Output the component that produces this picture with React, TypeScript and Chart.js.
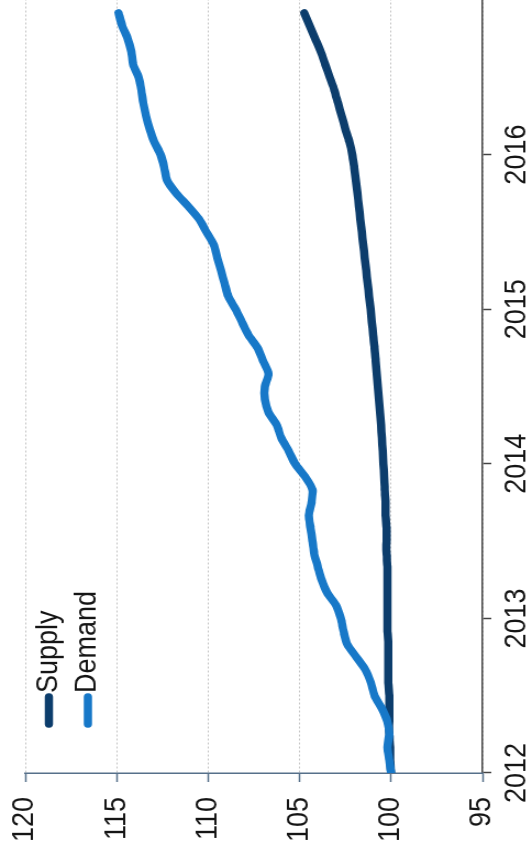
import { useEffect, useRef } from "react";
import { Chart, registerables } from "chart.js";

Chart.register(...registerables);

// ---- data (monthly, index 100 at Jan 2012) ----
const monthLabels: string[] = [
  "2012-01", "2012-02", "2012-03", "2012-04", "2012-05", "2012-06", "2012-07", "2012-08", "2012-09", "2012-10", "2012-11", "2012-12",
  "2013-01", "2013-02", "2013-03", "2013-04", "2013-05", "2013-06", "2013-07", "2013-08", "2013-09", "2013-10", "2013-11", "2013-12",
  "2014-01", "2014-02", "2014-03", "2014-04", "2014-05", "2014-06", "2014-07", "2014-08", "2014-09", "2014-10", "2014-11", "2014-12",
  "2015-01", "2015-02", "2015-03", "2015-04", "2015-05", "2015-06", "2015-07", "2015-08", "2015-09", "2015-10", "2015-11", "2015-12",
  "2016-01", "2016-02", "2016-03", "2016-04", "2016-05", "2016-06", "2016-07", "2016-08", "2016-09", "2016-10", "2016-11", "2016-12",
];

const supply: number[] = [
  100.0, 100.05, 100.05, 100.1, 100.1, 100.1, 100.1, 100.15, 100.15, 100.15, 100.15, 100.2,
  100.2, 100.2, 100.2, 100.2, 100.2, 100.25, 100.25, 100.25, 100.3, 100.3, 100.35, 100.38,
  100.42, 100.46, 100.5, 100.55, 100.6, 100.66, 100.72, 100.78, 100.84, 100.9, 100.98, 101.05,
  101.12, 101.2, 101.28, 101.36, 101.44, 101.52, 101.6, 101.68, 101.76, 101.84, 101.93, 102.02,
  102.12, 102.28, 102.5, 102.7, 102.9, 103.1, 103.35, 103.6, 103.85, 104.15, 104.45, 104.75,
];

const demand: number[] = [
  100.0, 100.1, 100.2, 100.1, 100.2, 100.5, 100.9, 101.1, 101.4, 101.9, 102.4, 102.6,
  102.75, 103.0, 103.5, 103.8, 104.0, 104.2, 104.3, 104.4, 104.5, 104.35, 104.3, 104.7,
  105.25, 105.6, 106.0, 106.25, 106.7, 106.9, 106.9, 106.7, 107.0, 107.3, 107.8, 108.15,
  108.5, 108.9, 109.1, 109.3, 109.5, 109.7, 110.1, 110.5, 111.1, 111.75, 112.25, 112.4,
  112.6, 112.95, 113.2, 113.4, 113.55, 113.65, 113.8, 114.1, 114.2, 114.4, 114.7, 114.9,
];

const yearTicks: number[] = [2012, 2013, 2014, 2015, 2016];
const valueTicks: number[] = [95, 100, 105, 110, 115, 120];
const seriesNames: string[] = ["Supply", "Demand"];

// ---- styles ----
const SUPPLY_COLOR = "#0c3d6c";
const DEMAND_COLOR = "#1778c8";
const TEXT_COLOR = "#151515";
const FONT_FAMILY = "'Liberation Sans', Arial, sans-serif";
const FONT_SIZE = 27;

const CW = 856;
const CH = 484;
const STRETCH = 532 / CH;

function toYear(label: string): number {
  const [y, m] = label.split("-").map(Number);
  return y + (m - 1) / 12;
}

const legendPlugin = {
  id: "customLegend",
  afterDatasetsDraw(chart: any) {
    const { ctx, chartArea } = chart;
    const colors = [SUPPLY_COLOR, DEMAND_COLOR];
    const rowY = [21.5, 57];
    ctx.save();
    seriesNames.forEach((name, i) => {
      const y = chartArea.top + rowY[i];
      const x0 = chartArea.left + 49;
      const x1 = chartArea.left + 76;
      ctx.beginPath();
      ctx.lineCap = "round";
      ctx.lineWidth = 7.5;
      ctx.strokeStyle = colors[i];
      ctx.moveTo(x0, y);
      ctx.lineTo(x1, y);
      ctx.stroke();
      ctx.font = `${FONT_SIZE}px ${FONT_FAMILY}`;
      ctx.fillStyle = TEXT_COLOR;
      ctx.textAlign = "left";
      ctx.textBaseline = "middle";
      ctx.fillText(name, chartArea.left + 80, y);
    });
    ctx.restore();
  },
};

export default function App() {
  const ref = useRef<HTMLCanvasElement | null>(null);

  useEffect(() => {
    if (!ref.current) return;
    const xs = monthLabels.map(toYear);
    const font = { family: FONT_FAMILY, size: FONT_SIZE };
    const chart = new Chart(ref.current, {
      type: "line",
      data: {
        datasets: [
          {
            label: seriesNames[0],
            data: xs.map((x, i) => ({ x, y: supply[i] })),
            borderColor: SUPPLY_COLOR,
            backgroundColor: SUPPLY_COLOR,
            borderWidth: 7.5,
            pointRadius: 0,
            tension: 0.25,
            borderCapStyle: "round",
            borderJoinStyle: "round",
            fill: false,
            order: 2,
          },
          {
            label: seriesNames[1],
            data: xs.map((x, i) => ({ x, y: demand[i] })),
            borderColor: DEMAND_COLOR,
            backgroundColor: DEMAND_COLOR,
            borderWidth: 7.5,
            pointRadius: 0,
            tension: 0.25,
            borderCapStyle: "round",
            borderJoinStyle: "round",
            fill: false,
            order: 1,
          },
        ],
      },
      options: {
        responsive: false,
        animation: false,
        devicePixelRatio: 1,
        layout: { padding: { top: 23, right: 0, bottom: 0, left: 0 } },
        plugins: {
          legend: { display: false },
          tooltip: { enabled: false },
        },
        scales: {
          x: {
            type: "linear",
            min: 2012,
            max: 2017,
            afterBuildTicks: (s: any) => {
              s.ticks = yearTicks.map((v) => ({ value: v }));
            },
            afterFit: (s: any) => {
              s.height = 45;
              s.paddingRight = 0;
            },
            ticks: {
              font,
              color: TEXT_COLOR,
              padding: 7,
              maxRotation: 0,
              autoSkip: false,
              callback: (v: any) => String(v),
            },
            grid: {
              drawOnChartArea: false,
              drawTicks: true,
              tickLength: 8,
              tickColor: "#444",
              tickWidth: 1.5,
            },
            border: { color: "#444", width: 1.5 },
          },
          y: {
            type: "linear",
            min: 95,
            max: 120,
            afterBuildTicks: (s: any) => {
              s.ticks = valueTicks.map((v) => ({ value: v }));
            },
            afterFit: (s: any) => {
              s.width = 83;
              s.paddingTop = 0;
              s.paddingBottom = 0;
            },
            ticks: {
              font,
              color: TEXT_COLOR,
              padding: 15,
              callback: (v: any) => String(v),
            },
            grid: {
              color: "#c4c4c4",
              lineWidth: 1,
              drawTicks: true,
              tickLength: 9,
              tickColor: "#56708a",
              tickWidth: 1.5,
            },
            border: { color: "#56708a", width: 1.5, dash: [2, 2] },
          },
        },
      },
      plugins: [legendPlugin],
    } as any);
    return () => chart.destroy();
  }, []);

  return (
    <div
      style={{
        position: "fixed",
        left: 0,
        top: 0,
        width: 532,
        height: 856,
        overflow: "hidden",
        background: "#fff",
      }}
    >
      <div
        style={{
          position: "absolute",
          left: 0,
          top: 0,
          width: CW,
          height: CH,
          transformOrigin: "0 0",
          transform: `translate(0px, 856px) rotate(-90deg) scale(1, ${STRETCH})`,
        }}
      >
        <canvas ref={ref} width={CW} height={CH} style={{ display: "block" }} />
      </div>
    </div>
  );
}
